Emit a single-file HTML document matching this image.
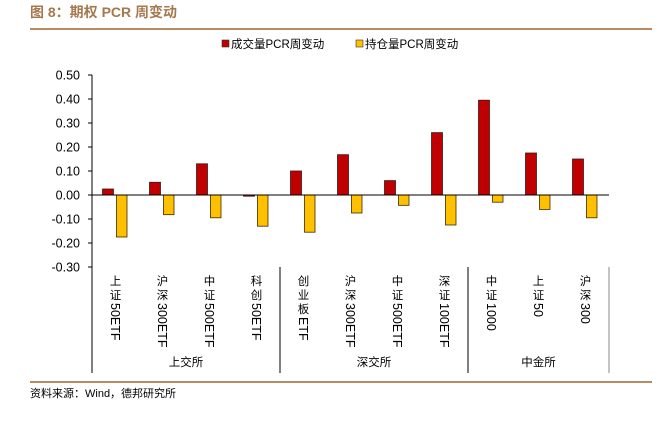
<!DOCTYPE html>
<html><head><meta charset="utf-8"><style>
body{margin:0;background:#fff;}
svg text{font-family:"Liberation Sans","Noto Sans CJK SC",sans-serif;}
</style></head><body>
<svg width="663" height="417" xmlns="http://www.w3.org/2000/svg">
<text x="30" y="17" font-size="14" font-weight="bold" fill="#a5784d">图 8：期权 PCR 周变动</text>
<line x1="30" y1="29" x2="652" y2="29" stroke="#b88b63" stroke-width="2"/>
<g>
<rect x="222" y="40" width="7" height="7" fill="#c00000" stroke="#333" stroke-width="0.6"/>
<text x="231" y="48" font-size="11.5" fill="#000">成交量PCR周变动</text>
<rect x="356" y="40" width="7" height="7" fill="#ffc000" stroke="#333" stroke-width="0.6"/>
<text x="365" y="48" font-size="11.5" fill="#000">持仓量PCR周变动</text>
</g>
<g id="plot"></g>
<line x1="30" y1="382" x2="652" y2="382" stroke="#b88b63" stroke-width="2"/>
<text x="30" y="397" font-size="11" fill="#000">资料来源：Wind，德邦研究所</text>
</svg>
<script>
const categories=[["上","证","50ETF"],["沪","深","300ETF"],["中","证","500ETF"],["科","创","50ETF"],["创","业","板","ETF"],["沪","深","300ETF"],["中","证","500ETF"],["深","证","100ETF"],["中","证","1000"],["上","证","50"],["沪","深","300"]];
const groups=["上交所","深交所","中金所"];
const groupSizes=[4,4,3];
const volumeValues=[0.025,0.053,0.13,-0.005,0.10,0.168,0.06,0.26,0.395,0.175,0.15];
const oiValues=[-0.175,-0.082,-0.095,-0.13,-0.155,-0.075,-0.043,-0.125,-0.03,-0.06,-0.095];
const yTicks=[0.5,0.4,0.3,0.2,0.1,0,-0.1,-0.2,-0.3];
const NS="http://www.w3.org/2000/svg";
const g=document.getElementById('plot');
const X0=92,CW=47,Y0=195,PX=240;
const y=v=>Y0-v*PX;
const xc=i=>X0+CW*i+CW/2;
function mk(t,a){const e=document.createElementNS(NS,t);for(const k in a)e.setAttribute(k,a[k]);g.appendChild(e);return e;}
let e=mk('line',{x1:X0,y1:y(0.5),x2:X0,y2:y(-0.3),stroke:'#000','stroke-width':1});


yTicks.forEach(t=>{
 let l=mk('line',{x1:X0-4,y1:y(t),x2:X0,y2:y(t),stroke:'#000'});
 
 
 let tx=mk('text',{x:X0-12,y:y(t)+4.5,'font-size':12.5,'text-anchor':'end',fill:'#000'});
 tx.textContent=t.toFixed(2);
 
 
});
categories.forEach((c,i)=>{
 const cx=xc(i);
 let v=volumeValues[i];
 let r=mk('rect',{x:cx-13,y:Math.min(y(v),Y0),width:11,height:Math.max(Math.abs(y(v)-Y0),0.8),fill:'#c00000',stroke:'#3a1a1a','stroke-width':0.8});
 
 
 let o=oiValues[i];
 let r2=mk('rect',{x:cx+1,y:Math.min(y(o),Y0),width:10.5,height:Math.abs(y(o)-Y0),fill:'#ffc000',stroke:'#3a2a00','stroke-width':0.8});
 
 
 let yy=285;
 c.forEach(s=>{
  if(s.length===1){
   let t=mk('text',{x:cx,y:yy,'font-size':11.5,'text-anchor':'middle',fill:'#000'});t.textContent=s;
   
   
   yy+=14;
  }else{
   let t=mk('text',{x:cx-4.5,y:yy-10,'font-size':12.5,fill:'#000',transform:`rotate(90 ${cx-4.5} ${yy-10})`});t.textContent=s;
   
   
  }
 });
});
let z=mk('line',{x1:X0,y1:Y0,x2:X0+CW*11,y2:Y0,stroke:'#000'});


let start=0;
groupSizes.forEach((n,k)=>{
 const xe=X0+CW*(start+n);
 let s=mk('line',{x1:xe,y1:267,x2:xe,y2:373,stroke:k==2?'#888':'#000'});
 
 
 let t=mk('text',{x:X0+CW*(start+n/2),y:366,'font-size':11.5,'text-anchor':'middle',fill:'#000'});
 t.textContent=groups[k];
 
 
 start+=n;
});
let a=mk('line',{x1:X0,y1:267,x2:X0,y2:373,stroke:'#000'});


</script>
</body></html>
